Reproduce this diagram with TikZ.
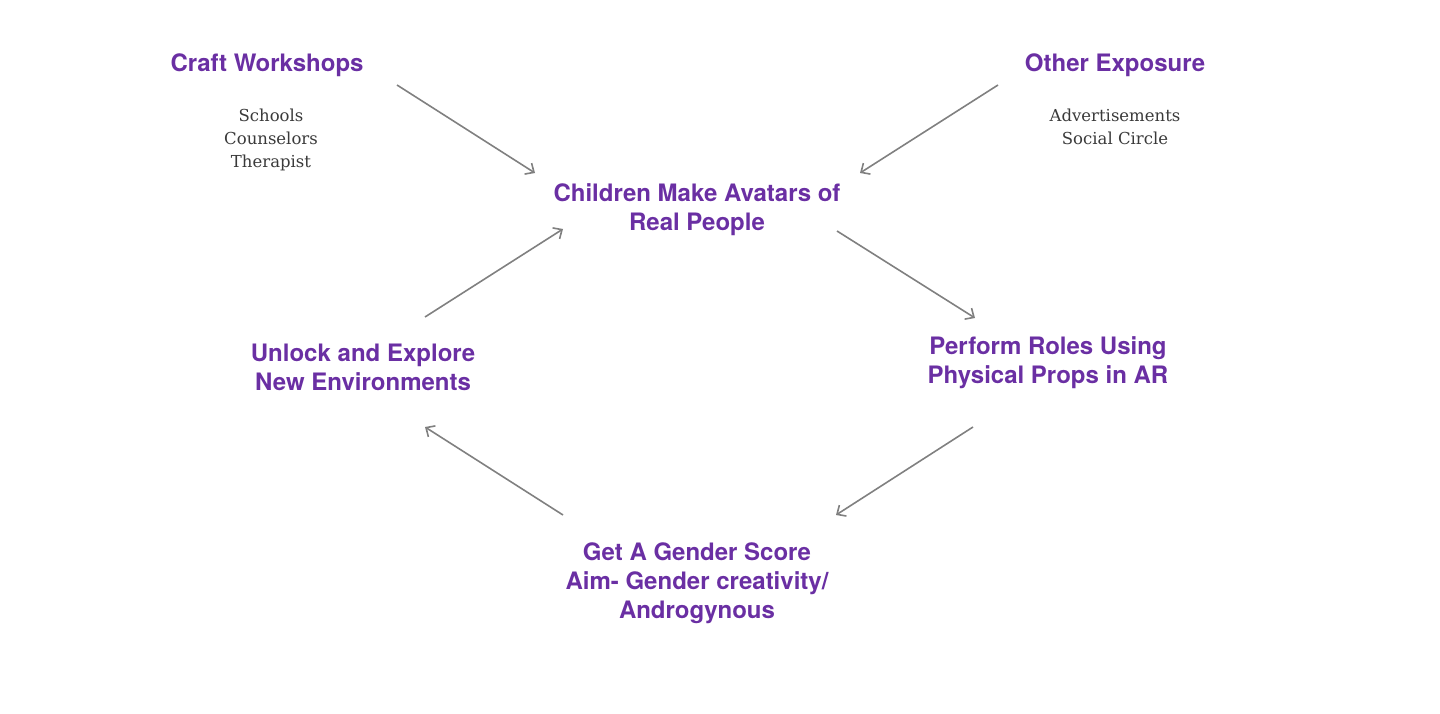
\documentclass[tikz,border=0pt]{standalone}
\usepackage{fontspec}
\setmainfont{TeX Gyre Heros}
\newfontfamily\subserif{DejaVu Serif}
\usetikzlibrary{arrows.meta}
\definecolor{titlepurple}{HTML}{6A2FA3}
\definecolor{subgray}{HTML}{3A3A3A}
\definecolor{arrowgray}{HTML}{808080}
\tikzset{
  title/.style={text=titlepurple, font=\fontsize{24}{29}\selectfont\bfseries, align=center, inner sep=0pt},
  subtext/.style={text=subgray, font=\subserif\fontsize{16.5}{23}\selectfont, align=center, inner sep=0pt},
  flow/.style={draw=arrowgray, line width=1.6pt, -{Straight Barb[length=7pt,width=13pt,line width=1.6pt]}},
}
\begin{document}
\begin{tikzpicture}[x=1pt,y=-1pt]
\useasboundingbox (0,0) rectangle (1440,714);
\node[title] (craft) at (267,65.5) {Craft Workshops};
\node[subtext] (craftsub) at (271,140) {Schools\\Counselors\\Therapist};
\node[title] (other) at (1115,65.5) {Other Exposure};
\node[subtext] (othersub) at (1115,126.5) {Advertisements\\Social Circle};
\node[title] (avatars) at (697,210) {Children Make Avatars of\\Real People};
\node[title] (unlock) at (363,367) {Unlock and Explore\\New Environments};
\node[title] (perform) at (1048,363) {Perform Roles Using\\Physical Props in AR};
\node[title] (score) at (697,583.5) {Get A Gender Score\\Aim- Gender creativity/\\Androgynous};

\coordinate (a1s) at (397,85);  \coordinate (a1e) at (535,173);
\coordinate (a2s) at (998,85);  \coordinate (a2e) at (860,173);
\coordinate (a3s) at (837,231); \coordinate (a3e) at (975,318);
\coordinate (a4s) at (973,427); \coordinate (a4e) at (836,515);
\coordinate (a5s) at (563,515); \coordinate (a5e) at (425,427);
\coordinate (a6s) at (425,317); \coordinate (a6e) at (563,229);

\draw[flow] (a1s) -- (a1e);
\draw[flow] (a2s) -- (a2e);
\draw[flow] (a3s) -- (a3e);
\draw[flow] (a4s) -- (a4e);
\draw[flow] (a5s) -- (a5e);
\draw[flow] (a6s) -- (a6e);
\end{tikzpicture}
\end{document}
